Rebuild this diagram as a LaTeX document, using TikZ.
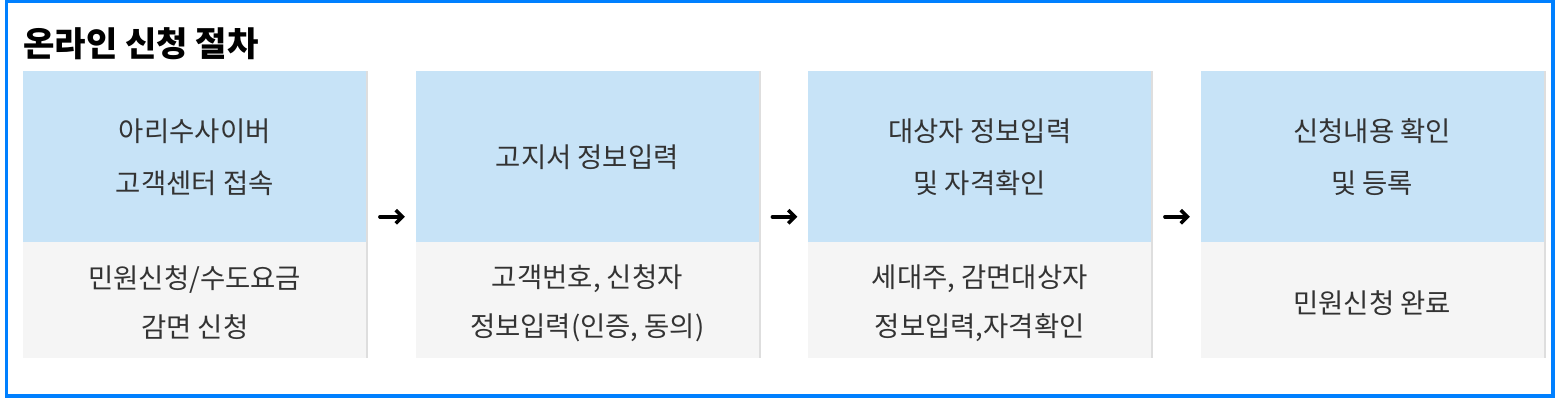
\documentclass[tikz,border=0pt]{standalone}
\usepackage{fontspec}
\newfontfamily\kr{Noto Sans CJK KR}
\usetikzlibrary{arrows.meta}
\definecolor{frameblue}{RGB}{0,128,255}
\definecolor{headblue}{RGB}{199,227,247}
\definecolor{bodygray}{RGB}{245,245,245}
\definecolor{edgegray}{RGB}{222,222,222}
\definecolor{textgray}{RGB}{51,51,51}
\tikzset{
	head/.style={fill=headblue,minimum width=257.25pt,minimum height=128.25pt,inner sep=0pt,anchor=north west,align=center,text=textgray,font=\kr\fontsize{20.6pt}{39pt}\selectfont},
	body/.style={fill=bodygray,minimum width=257.25pt,minimum height=87pt,inner sep=0pt,anchor=north west},
	bodytext/.style={inner sep=0pt,align=center,text=textgray,font=\kr\fontsize{20.6pt}{36.75pt}\selectfont},
	column/.style={minimum width=257.25pt,minimum height=215.25pt,inner sep=0pt,anchor=north west},
	step arrow/.style={-{Straight Barb[length=5pt,width=10pt]},line width=2.6pt,line cap=round,shorten <=10pt,shorten >=8pt}
}

\begin{document}
\begin{tikzpicture}[x=0.75pt,y=-0.75pt]
				\useasboundingbox (0,0) rectangle (1563,403);
				\draw[frameblue,line width=2.4pt] (6.5,1.5) rectangle (1553,396);
				\node[anchor=west,inner sep=0pt,font=\kr\bfseries\fontsize{25.6pt}{30pt}\selectfont] (title) at (23,44) {온라인 신청 절차};
				% gray edge on the right of each box
				\fill[edgegray] (366,71) rectangle (368,358);
				\fill[edgegray] (758.5,71) rectangle (760.5,358);
				\fill[edgegray] (1151,71) rectangle (1153,358);
				\fill[edgegray] (1543.5,71) rectangle (1545.5,358);
				\node[head] (h1) at (23,71) {아리수사이버\\고객센터 접속};
				\node[head] (h2) at (415.5,71) {고지서 정보입력};
				\node[head] (h3) at (808,71) {대상자 정보입력\\및 자격확인};
				\node[head] (h4) at (1200.5,71) {신청내용 확인\\및 등록};
				\node[body] (b1) at (23,242) {};
				\node[body] (b2) at (415.5,242) {};
				\node[body] (b3) at (808,242) {};
				\node[body] (b4) at (1200.5,242) {};
				\node[bodytext] (t1) at ([yshift=-1.9pt]b1.center) {민원신청/수도요금\\감면 신청};
				\node[bodytext] (t2) at ([yshift=-1.9pt]b2.center) {고객번호, 신청자\\정보입력(인증, 동의)};
				\node[bodytext] (t3) at ([yshift=-1.9pt]b3.center) {세대주, 감면대상자\\정보입력,자격확인};
				\node[bodytext] (t4) at ([yshift=-1.9pt]b4.center) {민원신청 완료};
				\node[column] (c1) at (23,73) {};
				\node[column] (c2) at (415.5,73) {};
				\node[column] (c3) at (808,73) {};
				\node[column] (c4) at (1200.5,73) {};
				\draw[step arrow] (c1) to (c2);
				\draw[step arrow] (c2) to (c3);
				\draw[step arrow] (c3) to (c4);
			\end{tikzpicture}
\end{document}
